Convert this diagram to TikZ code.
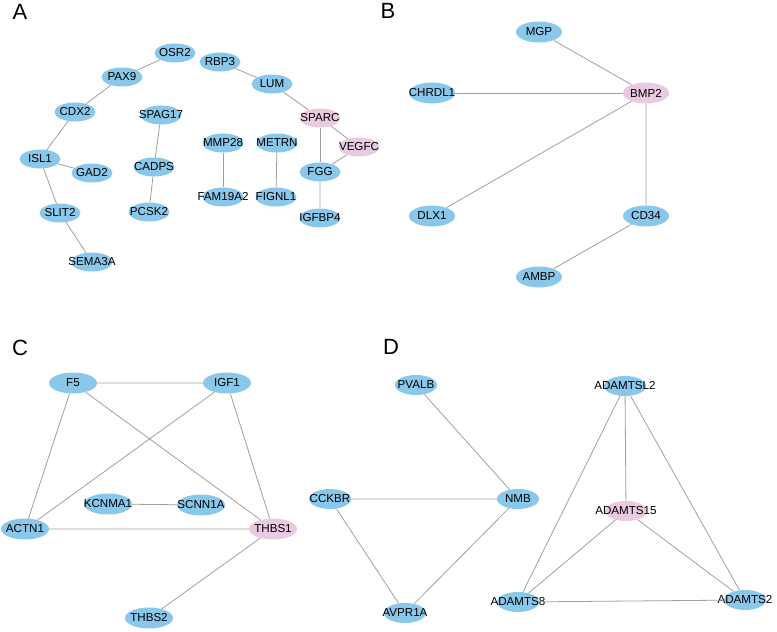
\documentclass[tikz,border=0pt]{standalone}
\usepackage{fontspec}
\setmainfont{Liberation Sans}
\usetikzlibrary{shapes.geometric}
\definecolor{geneblue}{RGB}{137,200,235}
\definecolor{genepink}{RGB}{233,202,226}
\definecolor{edgegray}{RGB}{160,160,160}
\newcommand{\gn}[1]{\makebox[0pt]{#1}}
\tikzset{
  gene/.style={ellipse, fill=geneblue, inner sep=0pt, minimum width=41pt, minimum height=19pt,
    font=\fontsize{11.6}{13}\selectfont},
  hub/.style={gene, fill=genepink},
  link/.style={draw=edgegray, line width=0.8pt},
  panel/.style={inner sep=0pt, font=\fontsize{22}{26}\selectfont}
}
\begin{document}
\begin{tikzpicture}[x=1pt,y=-1pt]
\useasboundingbox (0,0) rectangle (777,632);

\node[panel] (la) at (20,12) {A};
\node[gene] (osr2) at (175,53) {\gn{OSR2}};
\node[gene] (rbp3) at (220,62) {\gn{RBP3}};
\node[gene] (pax9) at (122,77) {\gn{PAX9}};
\node[gene] (lum) at (272,84) {\gn{LUM}};
\node[gene] (cdx2) at (75,112) {\gn{CDX2}};
\node[gene] (spag17) at (161,115) {\gn{SPAG17}};
\node[hub] (sparc) at (320,118) {\gn{SPARC}};
\node[gene] (mmp28) at (223,143) {\gn{MMP28}};
\node[gene] (metrn) at (277,143) {\gn{METRN}};
\node[hub] (vegfc) at (359,147) {\gn{VEGFC}};
\node[gene] (isl1) at (40,159) {\gn{ISL1}};
\node[gene] (gad2) at (92,173) {\gn{GAD2}};
\node[gene] (cadps) at (154,167) {\gn{CADPS}};
\node[gene] (fgg) at (320,172) {\gn{FGG}};
\node[gene] (fam19a2) at (223,197) {\gn{FAM19A2}};
\node[gene] (fignl1) at (276,197) {\gn{FIGNL1}};
\node[gene] (slit2) at (60,213) {\gn{SLIT2}};
\node[gene] (pcsk2) at (149,212) {\gn{PCSK2}};
\node[gene] (igfbp4) at (320,218) {\gn{IGFBP4}};
\node[gene] (sema3a) at (92,262) {\gn{SEMA3A}};
\draw[link] (osr2)--(pax9)--(cdx2)--(isl1)--(slit2)--(sema3a);
\draw[link] (isl1)--(gad2);
\draw[link] (spag17)--(cadps)--(pcsk2);
\draw[link] (mmp28)--(fam19a2);
\draw[link] (metrn)--(fignl1);
\draw[link] (rbp3)--(lum)--(sparc)--(vegfc)--(fgg)--(igfbp4);
\draw[link] (sparc)--(fgg);

\begin{scope}[gene/.append style={minimum width=46pt, minimum height=21pt}]
\node[panel] (lb) at (388,11) {B};
\node[gene] (mgp) at (539,32) {\gn{MGP}};
\node[hub] (bmp2) at (646,93) {\gn{BMP2}};
\node[gene] (chrdl1) at (432,93) {\gn{CHRDL1}};
\node[gene] (dlx1) at (432,216) {\gn{DLX1}};
\node[gene] (cd34) at (646,216) {\gn{CD34}};
\node[gene] (ambp) at (539,277) {\gn{AMBP}};
\end{scope}
\draw[link] (mgp)--(bmp2);
\draw[link] (chrdl1)--(bmp2);
\draw[link] (dlx1)--(bmp2);
\draw[link] (bmp2)--(cd34)--(ambp);

\begin{scope}[gene/.append style={minimum width=48pt, minimum height=21pt}]
\node[panel] (lc) at (20,348) {C};
\node[gene] (f5) at (73,383) {\gn{F5}};
\node[gene] (igf1) at (227,383) {\gn{IGF1}};
\node[gene] (kcnma1) at (108,504) {\gn{KCNMA1}};
\node[gene] (scnn1a) at (201,505) {\gn{SCNN1A}};
\node[gene] (actn1) at (25,529) {\gn{ACTN1}};
\node[hub] (thbs1) at (273,529) {\gn{THBS1}};
\node[gene] (thbs2) at (149,618) {\gn{THBS2}};
\end{scope}
\draw[link] (f5)--(igf1)--(thbs1)--(actn1)--(f5)--(thbs1);
\draw[link] (igf1)--(actn1);
\draw[link] (kcnma1)--(scnn1a);
\draw[link] (thbs1)--(thbs2);

\begin{scope}[gene/.append style={minimum width=42pt, minimum height=20pt}]
\node[panel] (ld) at (391,347) {D};
\node[gene] (pvalb) at (416,385) {\gn{PVALB}};
\node[gene] (cckbr) at (330,499) {\gn{CCKBR}};
\node[gene] (nmb) at (518,499) {\gn{NMB}};
\node[gene] (avpr1a) at (405,613) {\gn{AVPR1A}};
\node[gene] (adamtsl2) at (625,386) {\gn{ADAMTSL2}};
\node[hub] (adamts15) at (626,511) {\gn{ADAMTS15}};
\node[gene] (adamts8) at (518,602) {\gn{ADAMTS8}};
\node[gene] (adamts2) at (745,600) {\gn{ADAMTS2}};
\end{scope}
\draw[link] (pvalb)--(nmb)--(avpr1a)--(cckbr)--(nmb);
\draw[link] (adamtsl2)--(adamts8)--(adamts2)--(adamtsl2)--(adamts15);
\draw[link] (adamts15)--(adamts8);
\draw[link] (adamts15)--(adamts2);
\end{tikzpicture}
\end{document}
